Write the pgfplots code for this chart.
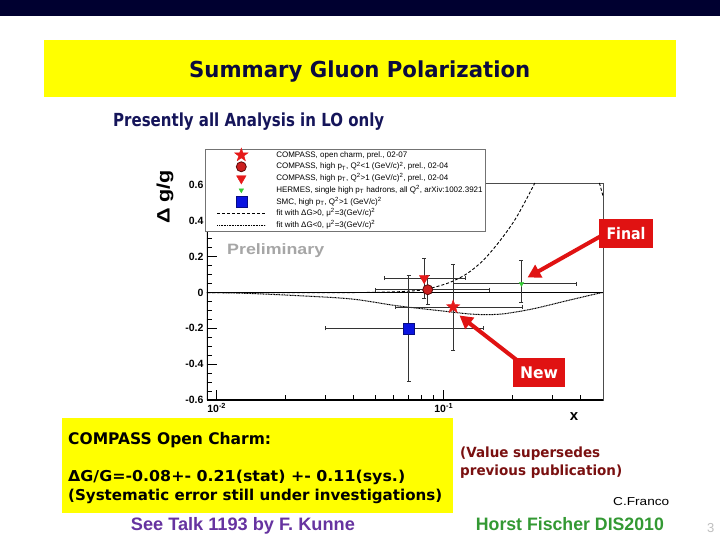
\documentclass[border=0pt]{standalone}
\usepackage{graphicx}
\usepackage{pgfplots}
\pgfplotsset{compat=1.18}
\usepackage{fontspec}
\usetikzlibrary{arrows.meta}
\setmainfont{Liberation Sans}
\newfontfamily\tah{DejaVu Sans}
\definecolor{navybar}{HTML}{000030}
\definecolor{titlec}{HTML}{0B0B3E}
\definecolor{presc}{HTML}{15155A}
\definecolor{slideyellow}{HTML}{FFFF00}
\definecolor{purplec}{HTML}{6633A0}
\definecolor{greenc}{HTML}{339933}
\definecolor{darkredc}{HTML}{7A1010}
\definecolor{boxred}{HTML}{E01212}
\definecolor{starred}{HTML}{E61A1A}
\definecolor{circfill}{HTML}{CC1F1F}
\definecolor{circedge}{HTML}{5A0A0A}
\definecolor{hermesg}{HTML}{33CC33}
\definecolor{smcblue}{HTML}{0A14E0}
\pgfdeclareplotmark{fstar}{%
  \pgfpathmoveto{\pgfpointpolar{90}{\pgfplotmarksize}}%
  \pgfpathlineto{\pgfpointpolar{126}{0.4\pgfplotmarksize}}%
  \pgfpathlineto{\pgfpointpolar{162}{\pgfplotmarksize}}%
  \pgfpathlineto{\pgfpointpolar{198}{0.4\pgfplotmarksize}}%
  \pgfpathlineto{\pgfpointpolar{234}{\pgfplotmarksize}}%
  \pgfpathlineto{\pgfpointpolar{270}{0.4\pgfplotmarksize}}%
  \pgfpathlineto{\pgfpointpolar{306}{\pgfplotmarksize}}%
  \pgfpathlineto{\pgfpointpolar{342}{0.4\pgfplotmarksize}}%
  \pgfpathlineto{\pgfpointpolar{18}{\pgfplotmarksize}}%
  \pgfpathlineto{\pgfpointpolar{54}{0.4\pgfplotmarksize}}%
  \pgfpathclose
  \pgfusepathqfillstroke}
\newcommand\fw[2]{\resizebox{#1}{\height}{#2}}
\pgfplotsset{
  markleg/.style={legend image code/.code={\path[draw=none,fill=none] (-10pt,-3pt) rectangle (58pt,3pt); \draw[##1,overlay] plot coordinates {(24pt,0pt)};}},
  eb/.style={error bars/x dir=both, error bars/x explicit, error bars/y dir=both, error bars/y explicit,
    error bars/error bar style={black!80,line width=0.7pt},
    error bars/error mark options={rotate=90,black!80,mark size=2pt,line width=0.7pt}},
}
\begin{document}
\begin{tikzpicture}
\begin{scope}[x=1pt,y=-1pt]
\fill[white] (0,0) rectangle (720,540);
\fill[navybar] (0,0) rectangle (720,15.7);
\fill[slideyellow] (44,40) rectangle (676,97);
\fill[slideyellow] (62,418) rectangle (453,513);
\node[anchor=base west, inner sep=0, text=titlec] at (189,78) {\fw{341pt}{\tah\bfseries\fontsize{22}{26}\selectfont Summary Gluon Polarization}};
\node[anchor=base west, inner sep=0, text=presc] at (113,126.5) {\fw{271pt}{\tah\bfseries\fontsize{18}{22}\selectfont Presently all Analysis in LO only}};
\node[anchor=base west, inner sep=0, text=black] at (68,444) {\fw{203pt}{\tah\bfseries\fontsize{16}{20}\selectfont COMPASS Open Charm:}};
\node[anchor=base west, inner sep=0, text=black] at (68,481.5) {\fw{337pt}{\tah\bfseries\fontsize{15}{18}\selectfont ΔG/G=-0.08+- 0.21(stat) +- 0.11(sys.)}};
\node[anchor=base west, inner sep=0, text=black] at (68,500) {\fw{374pt}{\tah\bfseries\fontsize{15}{18}\selectfont (Systematic error still under investigations)}};
\node[anchor=base west, inner sep=0, text=purplec] at (130.7,530) {\fw{224pt}{\bfseries\fontsize{18}{22}\selectfont See Talk 1193 by F. Kunne}};
\node[anchor=base west, inner sep=0, text=greenc] at (475.7,530) {\fw{188pt}{\bfseries\fontsize{18}{22}\selectfont Horst Fischer DIS2010}};
\node[anchor=base west, inner sep=0, text=darkredc] at (460,457) {\fw{140pt}{\tah\bfseries\fontsize{14}{17}\selectfont (Value supersedes}};
\node[anchor=base west, inner sep=0, text=darkredc] at (460,475) {\fw{162pt}{\tah\bfseries\fontsize{14}{17}\selectfont previous publication)}};
\node[anchor=base west, inner sep=0, text=black] at (613,505.7) {\fw{56pt}{\fontsize{11.5}{14}\selectfont C.Franco}};
\node[anchor=base west, inner sep=0, text=black!25] at (707,532) {\fontsize{13}{15}\selectfont 3};
\node[anchor=base west, inner sep=0, text=black!35] at (227,254.5) {\fw{97pt}{\bfseries\fontsize{15}{18}\selectfont Preliminary}};
\node[rotate=90, inner sep=0, text=black] at (165,197) {\fw{54pt}{\bfseries\fontsize{18}{22}\selectfont Δ g/g}};
\node[anchor=base, inner sep=0, text=black] at (574,420) {\bfseries\fontsize{15}{18}\selectfont x};
\coordinate (axsw) at (207,400);
\end{scope}
\begin{axis}[
  at={(axsw)}, anchor=south west, scale only axis, width=396pt, height=217pt,
  xmode=log, xmin=0.00906, xmax=0.503, ymin=-0.6, ymax=0.612,
  xtick={0.01,0.1}, xticklabels={10\textsuperscript{-2},10\textsuperscript{-1}},
  minor xtick={0.02,0.03,0.04,0.05,0.06,0.07,0.08,0.09,0.2,0.3,0.4},
  ytick={-0.6,-0.4,-0.2,0,0.2,0.4,0.6}, yticklabels={-0.6,-0.4,-0.2,0,0.2,0.4,0.6},
  minor y tick num=3,
  tick pos=left,
  major tick length=10pt, minor tick length=5pt,
  tick style={black, line width=0.8pt},
  axis line style={black!70, line width=0.6pt},
  ticklabel style={font=\bfseries\fontsize{10.5}{12}\selectfont},
  legend image code/.code={\path[draw=none,fill=none] (-10pt,-3pt) rectangle (58pt,3pt); \draw[#1,overlay] (0pt,0pt) -- (48pt,0pt);},
  legend style={at={(-0.005,1.157)}, anchor=north west, draw=black!55, fill=white, line width=0.6pt,
    inner xsep=2pt, inner ysep=0pt, legend cell align=left,
    nodes={text height=6.5pt, text depth=2.2pt, inner ysep=1.5pt, inner xsep=1pt, font=\fontsize{8}{9}\selectfont}},
]
\addplot[black, line width=1.8pt, forget plot] coordinates {(0.00906,0) (0.503,0)};
\addplot[black, line width=0.9pt, dash pattern=on 3pt off 2pt, smooth, tension=0.5, forget plot] coordinates {
 (0.00906,0) (0.02,0) (0.0387,0.0) (0.0524,0.002) (0.064,0.005) (0.0787,0.013) (0.09,0.028) (0.107,0.058) (0.126,0.104) (0.149,0.179) (0.177,0.29) (0.209,0.42) (0.252,0.612)};
\addplot[black, line width=0.9pt, dash pattern=on 3pt off 2pt, forget plot] coordinates {(0.485,0.612) (0.503,0.54)};
\addplot[black, line width=1pt, dash pattern=on 1pt off 0.6pt, smooth, tension=0.5, forget plot] coordinates {
 (0.00906,0) (0.0127,-0.003) (0.021,-0.015) (0.0387,-0.035) (0.061,-0.072) (0.08,-0.09) (0.099,-0.103) (0.126,-0.118) (0.149,-0.123) (0.183,-0.119) (0.247,-0.091) (0.35,-0.045) (0.47,-0.007) (0.503,0)};
\draw[black, line width=1.8pt] (rel axis cs:0,0) -- (rel axis cs:1,0);
\draw[black, line width=1.4pt] (rel axis cs:0,0) -- (rel axis cs:0,1);
\addplot[only marks, markleg, mark=fstar, mark size=7pt, mark options={fill=starred, draw=starred, line width=0.4pt}, eb]
 coordinates {(0.11,-0.08) += (0.113,0.24) -= (0.049,0.24)};
\addlegendentry{COMPASS, open charm, prel., 02-07}
\addplot[only marks, markleg, mark=*, mark size=5pt, mark options={fill=circfill, draw=circedge, line width=0.8pt}, eb]
 coordinates {(0.085,0.016) += (0.074,0.08) -= (0.035,0.08)};
\addlegendentry{COMPASS, high p\textsubscript{T}, Q\textsuperscript{2}<1 (GeV/c)\textsuperscript{2}, prel., 02-04}
\addplot[only marks, markleg, mark=triangle*, mark size=5.5pt, mark options={rotate=180, fill=starred, draw=starred, line width=0.4pt}, eb]
 coordinates {(0.082,0.08) += (0.042,0.112) -= (0.027,0.112)};
\addlegendentry{COMPASS, high p\textsubscript{T}, Q\textsuperscript{2}>1 (GeV/c)\textsuperscript{2}, prel., 02-04}
\addplot[only marks, markleg, mark=triangle*, mark size=2.6pt, mark options={rotate=180, fill=hermesg, draw=hermesg, line width=0.4pt}, eb]
 coordinates {(0.22,0.049) += (0.165,0.131) -= (0.11,0.105)};
\addlegendentry{HERMES, single high p\textsubscript{T} hadrons, all Q\textsuperscript{2}, arXiv:1002.3921}
\addplot[only marks, markleg, mark=square*, mark size=5.5pt, mark options={fill=smcblue, draw=smcblue!60!black, line width=0.5pt}, eb]
 coordinates {(0.07,-0.2) += (0.08,0.297) -= (0.04,0.297)};
\addlegendentry{SMC, high p\textsubscript{T}, Q\textsuperscript{2}>1 (GeV/c)\textsuperscript{2}}
\addlegendimage{black, line width=0.9pt, dash pattern=on 3pt off 2pt}
\addlegendentry{fit with ΔG>0, μ\textsuperscript{2}=3(GeV/c)\textsuperscript{2}}
\addlegendimage{black, line width=1pt, dash pattern=on 1pt off 0.6pt}
\addlegendentry{fit with ΔG<0, μ\textsuperscript{2}=3(GeV/c)\textsuperscript{2}}
\end{axis}
\begin{scope}[x=1pt,y=-1pt]
\draw[boxred, line width=4pt, -{Triangle[width=14pt,length=13pt]}] (601,236) -- (527.5,277.5);
\draw[boxred, line width=4pt, -{Triangle[width=14pt,length=13pt]}] (518,361) -- (459.5,315.5);
\fill[boxred] (599,219) rectangle (653,248);
\node[inner sep=0, text=white] at (626,234) {\fw{39pt}{\tah\bfseries\fontsize{16}{19}\selectfont Final}};
\fill[boxred] (513,358) rectangle (565,387);
\node[inner sep=0, text=white] at (539,373) {\fw{38pt}{\tah\bfseries\fontsize{16}{19}\selectfont New}};
\end{scope}
\end{tikzpicture}
\end{document}
